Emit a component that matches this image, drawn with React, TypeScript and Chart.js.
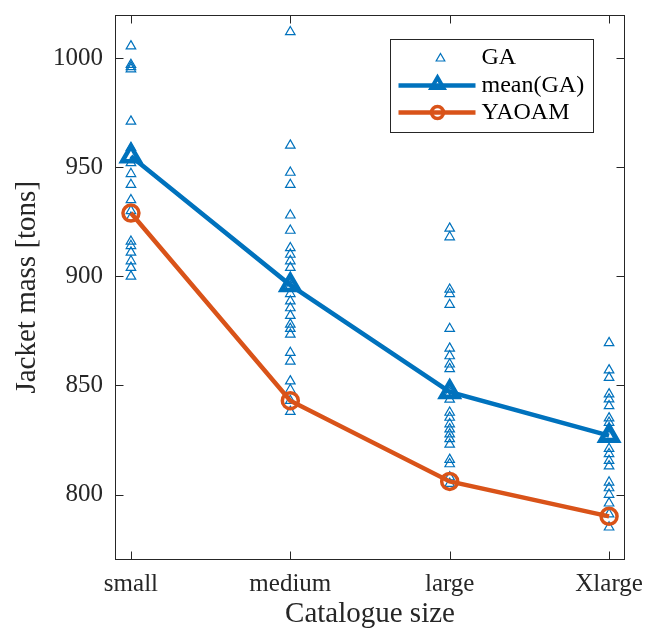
import React, { useEffect, useRef } from 'react';
import { Chart, registerables } from 'chart.js';

Chart.register(...registerables);

const categories = ['small', 'medium', 'large', 'Xlarge'];
const gaSmall = [1005.5, 997, 996, 995, 971, 959, 952, 947, 942, 935, 930, 927, 916, 914, 911, 907, 904, 900];
const gaMedium = [1012, 960, 947.6, 942, 928, 921, 913, 910, 907, 904, 898.6, 895.5, 892, 888.6, 885.5, 882, 878, 876, 873.4, 865, 861, 852, 848, 843, 838];
const gaLarge = [922, 918, 894, 892, 887, 876, 867, 863.5, 859.7, 857.6, 846.7, 843.6, 837.6, 835.3, 832.3, 830, 827.7, 825.5, 823, 816, 814, 808, 805];
const gaXlarge = [869.5, 857, 853.6, 846, 843.7, 840.6, 835, 833, 830, 827, 821, 818.6, 815.5, 813, 805.6, 803, 800, 796, 791, 785];
const meanGA = [955, 896, 847, 827];
const yaoam = [929, 843, 806, 790];
const yTicks = [800, 850, 900, 950, 1000];
const legendLabels = ['GA', 'mean(GA)', 'YAOAM'];

const BLUE = '#0072BD';
const ORANGE = '#D95319';
const AXIS = '#262626';
const FONT = "'Liberation Serif', 'Times New Roman', serif";

function triangle(ctx: CanvasRenderingContext2D, x: number, y: number, r: number) {
  ctx.beginPath();
  for (let i = 0; i < 3; i++) {
    const a = (i * 2 * Math.PI) / 3;
    const px = x + Math.sin(a) * r;
    const py = y - Math.cos(a) * r;
    if (i === 0) ctx.moveTo(px, py);
    else ctx.lineTo(px, py);
  }
  ctx.closePath();
}

const framePlugin = {
  id: 'frame',
  afterDraw(chart: any) {
    const { ctx, chartArea: a, scales } = chart;
    const L = Math.round(a.left) + 0.5;
    const R = Math.round(a.right) - 0.5;
    const T = Math.round(a.top) + 0.5;
    const B = Math.round(a.bottom) - 0.5;
    ctx.save();
    ctx.strokeStyle = AXIS;
    ctx.lineWidth = 1;
    ctx.strokeRect(L, T, R - L, B - T);
    const tl = 8;
    ctx.beginPath();
    yTicks.forEach((v) => {
      const py = Math.round(scales.y.getPixelForValue(v)) + 0.5;
      ctx.moveTo(L, py); ctx.lineTo(L + tl, py);
      ctx.moveTo(R, py); ctx.lineTo(R - tl, py);
    });
    categories.forEach((_, i) => {
      const px = Math.round(scales.x.getPixelForValue(i + 1)) + 0.5;
      ctx.moveTo(px, B); ctx.lineTo(px, B - tl);
      ctx.moveTo(px, T); ctx.lineTo(px, T + tl);
    });
    ctx.stroke();

    // legend
    const lx = Math.round(a.right) - 235 + 0.5;
    const ly = Math.round(a.top) + 24 + 0.5;
    const lw = 203;
    const lh = 93;
    ctx.fillStyle = '#ffffff';
    ctx.fillRect(lx, ly, lw, lh);
    ctx.strokeStyle = AXIS;
    ctx.lineWidth = 1;
    ctx.strokeRect(lx, ly, lw, lh);
    const rows = [ly + 18, ly + 46, ly + 73];
    // GA
    ctx.strokeStyle = BLUE;
    ctx.lineWidth = 1.2;
    triangle(ctx, lx + 50, rows[0] + 1, 5);
    ctx.stroke();
    // mean(GA)
    ctx.lineWidth = 4.5;
    ctx.beginPath(); ctx.moveTo(lx + 8, rows[1]); ctx.lineTo(lx + 85, rows[1]); ctx.stroke();
    ctx.lineWidth = 4;
    triangle(ctx, lx + 47, rows[1] - 1, 7);
    ctx.stroke();
    // YAOAM
    ctx.strokeStyle = ORANGE;
    ctx.lineWidth = 4.5;
    ctx.beginPath(); ctx.moveTo(lx + 8, rows[2]); ctx.lineTo(lx + 85, rows[2]); ctx.stroke();
    ctx.lineWidth = 3.5;
    ctx.beginPath(); ctx.arc(lx + 47, rows[2], 6, 0, Math.PI * 2); ctx.stroke();
    ctx.fillStyle = '#000000';
    ctx.font = `24px ${FONT}`;
    ctx.textBaseline = 'middle';
    ctx.textAlign = 'left';
    legendLabels.forEach((t, i) => ctx.fillText(t, lx + 91, rows[i]));
    ctx.restore();
  },
};

export default function App() {
  const ref = useRef<HTMLCanvasElement>(null);
  useEffect(() => {
    if (!ref.current) return;
    const toPts = (arr: number[], x: number) => arr.map((y) => ({ x, y }));
    const gaPoints = [
      ...toPts(gaSmall, 1),
      ...toPts(gaMedium, 2),
      ...toPts(gaLarge, 3),
      ...toPts(gaXlarge, 4),
    ];
    const chart = new Chart(ref.current, {
      type: 'scatter',
      data: {
        datasets: [
          {
            label: 'GA',
            data: gaPoints,
            pointStyle: 'triangle',
            pointRadius: 5.5,
            pointBorderWidth: 1.2,
            borderColor: BLUE,
            backgroundColor: 'rgba(0,0,0,0)',
            showLine: false,
            order: 3,
          },
          {
            label: 'mean(GA)',
            data: meanGA.map((y, i) => ({ x: i + 1, y })),
            pointStyle: 'triangle',
            pointRadius: 10,
            pointBorderWidth: 4.5,
            borderColor: BLUE,
            pointBorderColor: BLUE,
            backgroundColor: 'rgba(0,0,0,0)',
            borderWidth: 4.5,
            showLine: true,
            order: 2,
          },
          {
            label: 'YAOAM',
            data: yaoam.map((y, i) => ({ x: i + 1, y })),
            pointStyle: 'circle',
            pointRadius: 8,
            pointBorderWidth: 3.5,
            borderColor: ORANGE,
            pointBorderColor: ORANGE,
            backgroundColor: 'rgba(0,0,0,0)',
            borderWidth: 4.5,
            showLine: true,
            order: 1,
          },
        ],
      },
      options: {
        responsive: false,
        animation: false,
        layout: { padding: { top: 13, right: 36, left: 0, bottom: 0 } },
        plugins: { legend: { display: false }, tooltip: { enabled: false } },
        scales: {
          x: {
            type: 'linear',
            min: 0.9,
            max: 4.1,
            afterFit: (s: any) => { s.height = 74; s.paddingLeft = 0; s.paddingRight = 0; },
            afterBuildTicks: (s: any) => { s.ticks = categories.map((_, i) => ({ value: i + 1 })); },
            grid: { display: false, drawTicks: false },
            border: { display: false },
            ticks: {
              autoSkip: false,
              maxRotation: 0,
              padding: 9,
              color: '#262626',
              font: { family: FONT, size: 25 },
              callback: (v: any) => categories[Number(v) - 1] ?? '',
            },
            title: {
              display: true,
              text: 'Catalogue size',
              color: '#262626',
              font: { family: FONT, size: 29 },
              padding: { top: 0, bottom: 2 },
            },
          },
          y: {
            type: 'linear',
            min: 770,
            max: 1020,
            afterFit: (s: any) => { s.width = 115; s.paddingTop = 0; s.paddingBottom = 0; },
            afterBuildTicks: (s: any) => { s.ticks = yTicks.map((v) => ({ value: v })); },
            grid: { display: false, drawTicks: false },
            border: { display: false },
            ticks: {
              padding: 12,
              color: '#262626',
              font: { family: FONT, size: 25 },
              callback: (v: any) => String(v),
            },
            title: {
              display: true,
              text: 'Jacket mass [tons]',
              color: '#262626',
              font: { family: FONT, size: 29 },
              padding: { top: 10, bottom: 0 },
            },
          },
        },
      },
      plugins: [framePlugin],
    });
    return () => chart.destroy();
  }, []);
  return (
    <div style={{ position: 'fixed', left: 0, top: 0, width: 661, height: 634, background: '#fff' }}>
      <canvas ref={ref} width={661} height={634} style={{ display: 'block' }} />
    </div>
  );
}
